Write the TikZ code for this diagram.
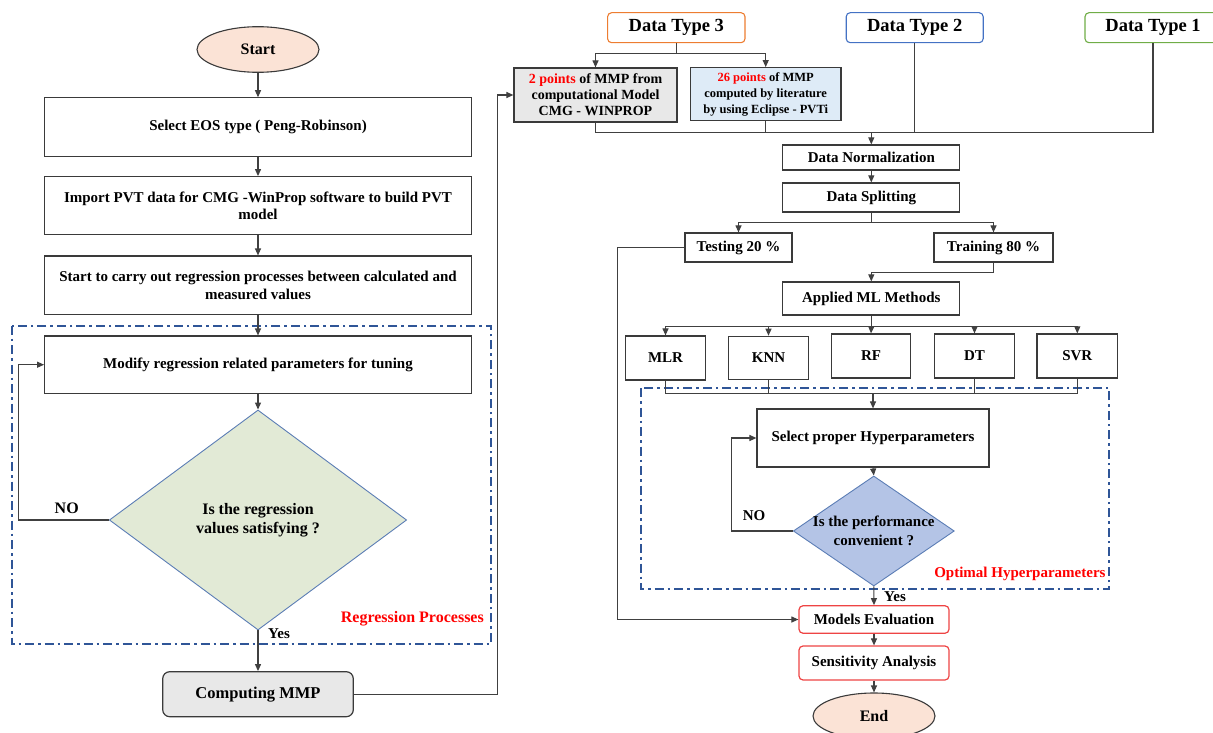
\documentclass[tikz,border=0pt]{standalone}
\usepackage{fontspec}
\setmainfont{Liberation Serif}
\usetikzlibrary{arrows.meta,shapes.geometric}
\definecolor{boxc}{HTML}{3A3A3A}
\definecolor{linec}{HTML}{404040}
\definecolor{regc}{HTML}{2F5597}
\definecolor{peach}{HTML}{FBE3D6}
\definecolor{dgreen}{HTML}{E2EAD6}
\definecolor{dblue}{HTML}{B4C4E6}
\definecolor{dborder}{HTML}{5B7DB5}
\definecolor{orangec}{HTML}{ED7D31}
\definecolor{bluec}{HTML}{4472C4}
\definecolor{greenc}{HTML}{70AD47}
\definecolor{grayfill}{HTML}{E8E8E8}
\definecolor{bluefill}{HTML}{DEEBF7}
\definecolor{redc}{HTML}{FF0000}
\definecolor{redbox}{HTML}{EE4444}
\tikzset{
  box/.style={draw=boxc, line width=1.2pt, fill=white, inner sep=0pt, align=center,
    font=\fontsize{15}{17.5}\selectfont\bfseries},
  term/.style={ellipse, draw=boxc, line width=1.1pt, fill=peach, inner sep=0pt,
    font=\fontsize{16}{19}\selectfont\bfseries},
  decision/.style={diamond, draw=dborder, line width=0.9pt, inner sep=0pt, align=center},
  typebox/.style={draw, rounded corners=4pt, line width=1.1pt, fill=white, inner sep=0pt,
    minimum height=30pt, font=\fontsize{18.5}{21}\selectfont\bfseries},
  redboxst/.style={box, draw=redbox, rounded corners=4pt},
  arr/.style={draw=linec, line width=1.1pt, -{Triangle[length=7pt,width=6pt]}},
  ln/.style={draw=linec, line width=1.1pt},
  region/.style={draw=regc, line width=1.8pt, dash pattern=on 9pt off 4pt on 2.5pt off 4pt},
  lbl/.style={inner sep=0pt, font=\fontsize{15}{18}\selectfont\bfseries},
  redlbl/.style={inner sep=0pt, text=redc, font=\fontsize{16}{19}\selectfont\bfseries},
}
\begin{document}
\begin{tikzpicture}[x=1pt,y=-1pt]
\useasboundingbox (0,0) rectangle (1213,733);
% ---------- left column ----------
\draw[region] (12.3,325.7) rectangle (490.7,644.3);
\node[term, minimum width=122pt, minimum height=45.6pt] (start) at (258,49.5) {Start};
\node[box, minimum width=426.6pt, minimum height=58.3pt] (b1) at (258,127) {Select EOS type ( Peng-Robinson)};
\node[box, minimum width=426.6pt, minimum height=58pt] (b2) at (258,205.7) {Import PVT data for CMG -WinProp software to build PVT\\model};
\node[box, minimum width=426.6pt, minimum height=58.3pt] (b3) at (258,285.2) {Start to carry out regression processes between calculated and\\measured values};
\node[box, minimum width=426.6pt, minimum height=57.3pt] (b4) at (258,364.7) {Modify regression related parameters for tuning};
\node[decision, fill=dgreen, minimum width=297.3pt, minimum height=220pt,
  font=\fontsize{16}{19}\selectfont\bfseries] (d1) at (258,520) {Is the regression\\values satisfying ?};
\node[box, fill=grayfill, rounded corners=7pt, minimum width=190.6pt, minimum height=45pt,
  font=\fontsize{16.5}{19}\selectfont\bfseries] (cmmp) at (258,694.2) {Computing MMP};
\node[lbl, font=\fontsize{16}{19}\selectfont\bfseries] (no1) at (66.7,508) {NO};
\node[lbl] (yes1) at (279,634) {Yes};
\node[redlbl, anchor=east] (reg1) at (484,619) {Regression Processes};
\draw[arr] (start) -- (b1);
\draw[arr] (b1) -- (b2);
\draw[arr] (b2) -- (b3);
\draw[arr] (b3) -- (b4);
\draw[arr] (b4) -- (d1.north);
\draw[arr] (d1.west) -- ++(-90,0) |- (b4.west);
\draw[arr] (d1.south) -- (cmmp.north);
% ---------- right column ----------
\draw[region] (641,388) rectangle (1109,589);
\node[typebox, draw=orangec, minimum width=137.4pt] (dt3) at (676.3,27.7) {Data Type 3};
\node[typebox, draw=bluec, minimum width=137pt] (dt2) at (914.7,27.7) {Data Type 2};
\node[typebox, draw=greenc, minimum width=136pt] (dt1) at (1153,27.7) {Data Type 1};
\node[box, fill=grayfill, minimum width=163pt, minimum height=54pt,
  font=\fontsize{14}{16}\selectfont\bfseries] (p2) at (595.5,95) {{\color{redc}2 points} of MMP from\\computational Model\\CMG - WINPROP};
\node[box, fill=bluefill, minimum width=150.5pt, minimum height=53pt,
  font=\fontsize{12.5}{16}\selectfont\bfseries] (p26) at (765.7,94.2) {{\color{redc}26 points} of MMP\\computed by literature\\by using Eclipse - PVTi};
\node[box, minimum width=177pt, minimum height=25pt] (norm) at (871.3,157.5) {Data Normalization};
\node[box, minimum width=177pt, minimum height=29pt] (split) at (871.3,197.5) {Data Splitting};
\node[box, minimum width=107pt, minimum height=29pt] (test) at (738.5,247.5) {Testing 20 \%};
\node[box, minimum width=119pt, minimum height=29pt] (train) at (993.5,247.5) {Training 80 \%};
\node[box, minimum width=177pt, minimum height=33pt] (aml) at (871.3,298.5) {Applied ML Methods};
\node[box, minimum width=79.5pt, minimum height=44pt] (mlr) at (665.5,358) {MLR};
\node[box, minimum width=79.5pt, minimum height=43pt] (knn) at (768.5,357.8) {KNN};
\node[box, minimum width=79.5pt, minimum height=44pt] (rf) at (871,356) {RF};
\node[box, minimum width=79.5pt, minimum height=44pt] (dt) at (974.5,356) {DT};
\node[box, minimum width=80.5pt, minimum height=44pt] (svr) at (1077.3,356) {SVR};
\node[box, minimum width=232pt, minimum height=58pt] (hyp) at (873,438) {Select proper Hyperparameters};
\node[decision, fill=dblue, inner sep=-15pt, aspect=1.46, minimum width=161pt, minimum height=110pt,
  font=\fontsize{15}{19}\selectfont\bfseries] (d2) at (873.8,531) {Is the performance\\convenient ?};
\node[redboxst, minimum width=150pt, minimum height=27.5pt] (eval) at (874,619.5) {Models Evaluation};
\node[redboxst, minimum width=150pt, minimum height=34pt] (sens) at (874,663) {Sensitivity Analysis};
\node[term, minimum width=122pt, minimum height=46pt] (end) at (874,716) {End};
\node[lbl] (no2) at (754,516) {NO};
\node[lbl] (yes2) at (895,597) {Yes};
\node[redlbl, anchor=east, font=\fontsize{15}{18}\selectfont\bfseries] (opt) at (1105.7,574) {Optimal Hyperparameters};
% connectors
\draw[arr] (cmmp.east) -- ++(143.4,0) |- (p2.west);
\draw[ln] (dt3.south) -- ++(0,10.3) coordinate (j3);
\draw[arr] (j3) -| (p2.north);
\draw[arr] (j3) -| (p26.north);
\coordinate (jn) at (871.3,132.5);
\draw[ln] (p2.south) |- (jn);
\draw[ln] (p26.south) |- (jn);
\draw[ln] (dt2.south) |- (jn);
\draw[ln] (dt1.south) |- (jn);
\draw[arr] (jn) -- (norm.north);
\draw[arr] (norm) -- (split);
\draw[ln] (split.south) -- ++(0,10) coordinate (js);
\draw[arr] (js) -| (test.north);
\draw[arr] (js) -| (train.north);
\draw[arr] (train.south) -- ++(0,10) -| (aml.north);
\draw[ln] (aml.south) -- ++(0,10.5) coordinate (ja);
\draw[arr] (ja) -| (mlr.north);
\draw[arr] (ja) -| (knn.north);
\draw[arr] (ja) -- (rf.north);
\draw[arr] (ja) -| (dt.north);
\draw[arr] (ja) -| (svr.north);
\coordinate (jm) at (873,393.5);
\draw[ln] (mlr.south) |- (jm);
\draw[ln] (knn.south) |- (jm);
\draw[ln] (dt.south) |- (jm);
\draw[ln] (svr.south) |- (jm);
\draw[arr] (jm) -- (hyp.north);
\draw[arr] (hyp.south) -- (d2.north);
\draw[arr] (d2.west) -- ++(-61.4,0) |- (hyp.west);
\draw[arr] (d2.south) -- (eval.north);
\draw[arr] (test.west) -- ++(-67,0) |- (eval.west);
\draw[arr] (eval) -- (sens);
\draw[arr] (sens) -- (end);
\end{tikzpicture}
\end{document}
